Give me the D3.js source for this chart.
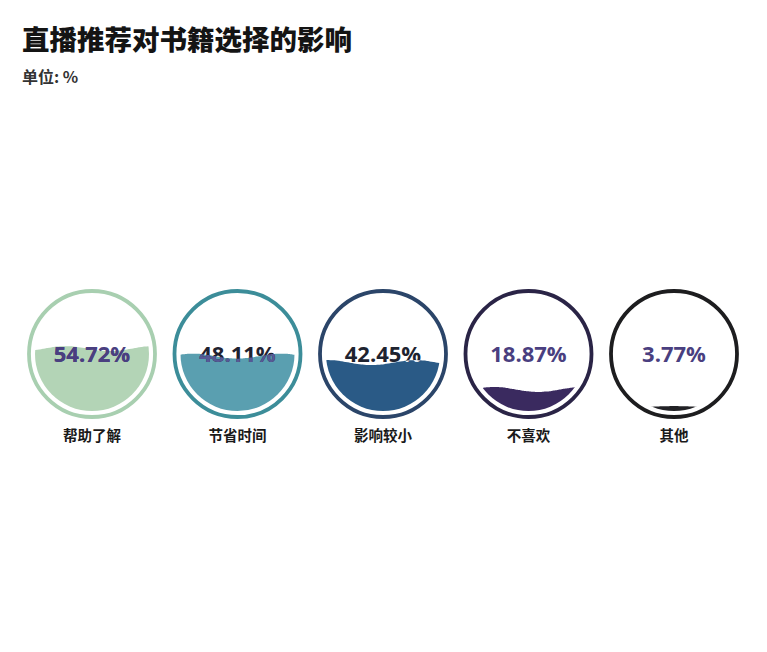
<!DOCTYPE html>
<html><head><meta charset="utf-8">
<script src="https://cdn.jsdelivr.net/npm/d3@7"></script>
<style>
html,body{margin:0;padding:0;background:#fff;}
svg{display:block;}
</style></head>
<body>
<script>
const title = "直播推荐对书籍选择的影响";
const unitLabel = "单位: %";
const categories = ["帮助了解", "节省时间", "影响较小", "不喜欢", "其他"];
const values = [54.72, 48.11, 42.45, 18.87, 3.77];
const ringColors = ["#a8cfb0", "#3c8d99", "#2b4569", "#2a2446", "#1d1d1f"];
const fillColors = ["#b3d4b6", "#5a9fb0", "#2a5a86", "#3a2a5f", "#222226"];
const textColors = ["#4a3f80", "#1f2230", "#1e2330", "#4a3f80", "#4a3f80"];
const waveTextColors = ["#4a3f80", "#565996", "#e8eef5", "#ffffff", "#ffffff"];
const wavePhases = [0.3, 1.6, 2.4, 0.9, -1.57];
const waveAmps = [2.5, 2.5, 2.5, 2.5, 0.6];

const W = 767, H = 652;
const svg = d3.select("body").append("svg").attr("width", W).attr("height", H);

svg.append("text").attr("x", 22).attr("y", 50)
  .attr("font-family", "Noto Sans CJK SC").attr("font-weight", 900)
  .attr("font-size", 27.5).attr("fill", "#141414").text(title);
svg.append("text").attr("x", 22).attr("y", 83)
  .attr("font-family", "Noto Sans CJK SC").attr("font-weight", 700)
  .attr("font-size", 16).attr("fill", "#333").text(unitLabel);

const x = d3.scalePoint().domain(categories).range([92, 674]);
const cy = 354;
const ringR = 63, ringW = 3.8, fillR = 57;
const level = d3.scaleLinear().domain([0, 100]).range([cy + fillR, cy - fillR]);

const defs = svg.append("defs");

categories.forEach((c, i) => {
  const cx = x(c);
  const g = svg.append("g");
  g.append("circle").attr("cx", cx).attr("cy", cy).attr("r", ringR)
    .attr("fill", "none").attr("stroke", ringColors[i]).attr("stroke-width", ringW);

  const clipId = "clip" + i;
  defs.append("clipPath").attr("id", clipId)
    .append("circle").attr("cx", cx).attr("cy", cy).attr("r", fillR);

  const base = level(values[i]);
  const amp = waveAmps[i];
  const xs = d3.range(-fillR - 2, fillR + 3, 2);
  const area = d3.area()
    .x(d => cx + d)
    .y0(cy + fillR + 5)
    .y1(d => base + amp * Math.sin((d / fillR) * Math.PI * 1.3 + wavePhases[i]))
    .curve(d3.curveBasis);

  const waveClipId = "wclip" + i;
  defs.append("clipPath").attr("id", waveClipId)
    .append("path").attr("d", area(xs));

  g.append("g").attr("clip-path", `url(#${clipId})`)
    .append("path").attr("d", area(xs)).attr("fill", fillColors[i]);

  const txt = d3.format(".2f")(values[i]) + "%";
  g.append("text").attr("x", cx).attr("y", 362).attr("text-anchor", "middle")
    .attr("font-family", "Open Sans").attr("font-weight", 700).attr("font-size", 22)
    .attr("fill", textColors[i]).text(txt);
  g.append("g").attr("clip-path", `url(#${clipId})`)
    .append("g").attr("clip-path", `url(#${waveClipId})`)
    .append("text").attr("x", cx).attr("y", 362).attr("text-anchor", "middle")
    .attr("font-family", "Open Sans").attr("font-weight", 700).attr("font-size", 22)
    .attr("fill", waveTextColors[i]).text(txt);

  g.append("text").attr("x", cx).attr("y", 441).attr("text-anchor", "middle")
    .attr("font-family", "Noto Sans CJK SC").attr("font-weight", 700)
    .attr("font-size", 14.5).attr("fill", "#1a1a1a").text(c);
});
</script>
</body></html>
